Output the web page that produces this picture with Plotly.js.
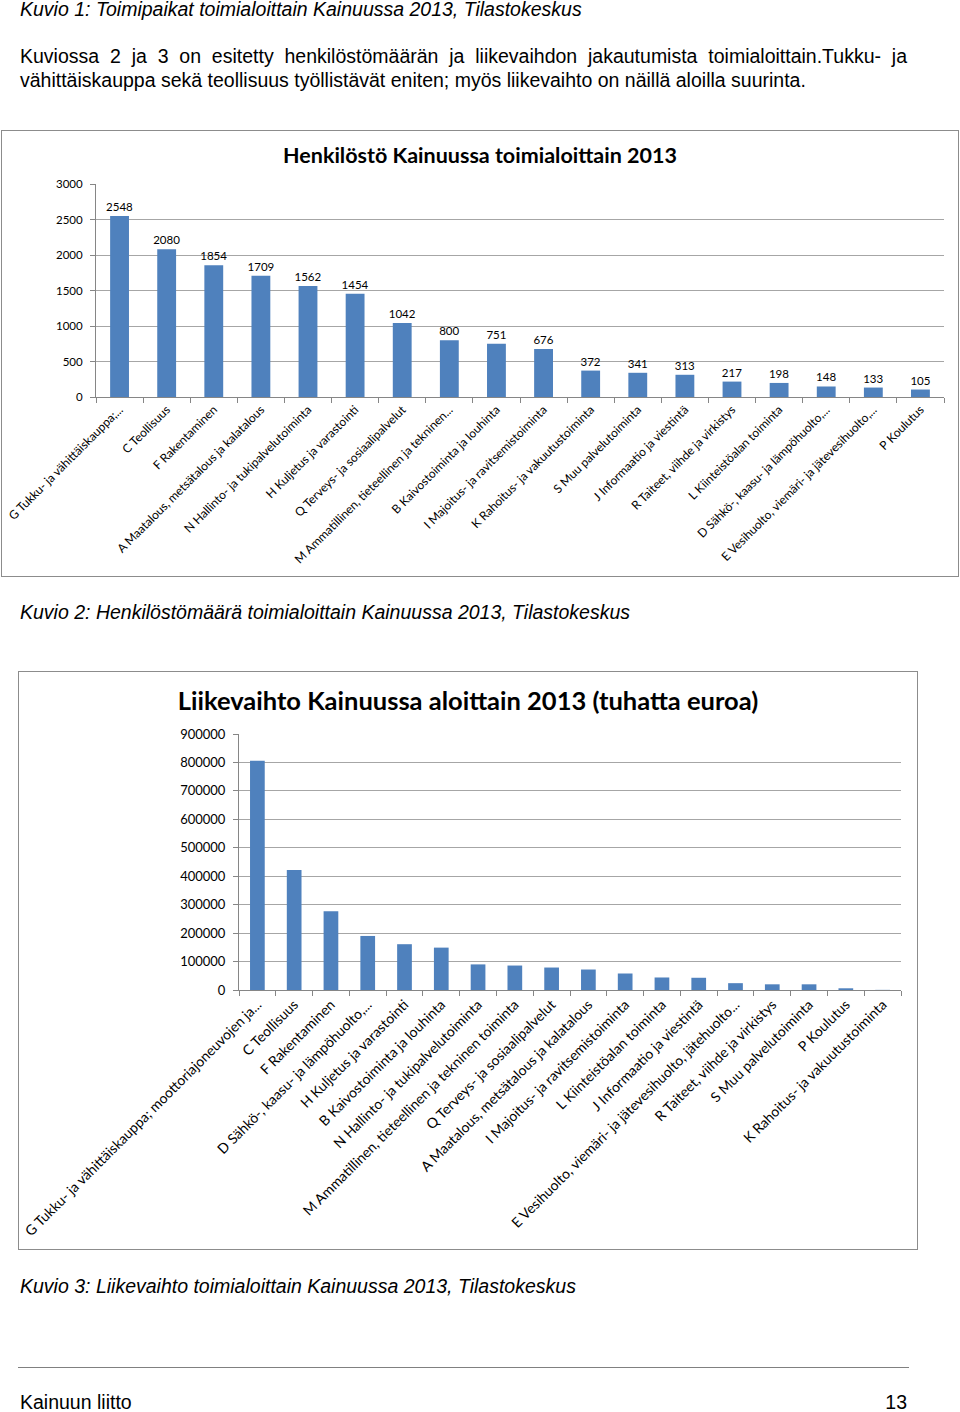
<!DOCTYPE html>
<html><head><meta charset="utf-8">
<script src="https://cdn.plot.ly/plotly-3.0.1.min.js"></script>
<style>
body{margin:0;width:960px;height:1412px;position:relative;background:#fff;font-family:"Liberation Sans",Arial,sans-serif;color:#000;overflow:hidden}
.t{position:absolute;white-space:nowrap;font-size:19.5px;line-height:22px}
.i{font-style:italic}
.box{position:absolute;border:1px solid #8c8c8c;box-sizing:border-box;background:#fff}
.f{line-height:16px}
</style></head><body>

<div class="t i" style="left:20px;top:-2px">Kuvio 1: Toimipaikat toimialoittain Kainuussa 2013, Tilastokeskus</div>
<div class="t" style="left:20px;top:45px;width:887px;text-align:justify;text-align-last:justify">Kuviossa 2 ja 3 on esitetty henkilöstömäärän ja liikevaihdon jakautumista toimialoittain.Tukku- ja</div>
<div class="t" style="left:20px;top:69px">vähittäiskauppa sekä teollisuus työllistävät eniten; myös liikevaihto on näillä aloilla suurinta.</div>

<div id="c1" class="box" style="left:1px;top:130px;width:958px;height:447px"></div>

<div class="t i" style="left:20px;top:601px">Kuvio 2: Henkilöstömäärä toimialoittain Kainuussa 2013, Tilastokeskus</div>

<div id="c2" class="box" style="left:18px;top:671px;width:900px;height:579px"></div>

<div class="t i" style="left:20px;top:1275px">Kuvio 3: Liikevaihto toimialoittain Kainuussa 2013, Tilastokeskus</div>
<div style="position:absolute;left:18px;top:1367px;width:891px;height:1px;background:#808080"></div>
<div class="t f" style="left:20px;top:1394px">Kainuun liitto</div>
<div class="t f" style="left:870px;top:1394px;width:37px;text-align:right">13</div>

<script>
// Chart 1: Henkilöstö
const staffCategories = [
  "G Tukku- ja vähittäiskauppa;...",
  "C Teollisuus",
  "F Rakentaminen",
  "A Maatalous, metsätalous ja kalatalous",
  "N Hallinto- ja tukipalvelutoiminta",
  "H Kuljetus ja varastointi",
  "Q Terveys- ja sosiaalipalvelut",
  "M Ammatillinen, tieteellinen ja tekninen...",
  "B Kaivostoiminta ja louhinta",
  "I Majoitus- ja ravitsemistoiminta",
  "K Rahoitus- ja vakuutustoiminta",
  "S Muu palvelutoiminta",
  "J Informaatio ja viestintä",
  "R Taiteet, viihde ja virkistys",
  "L Kiinteistöalan toiminta",
  "D Sähkö-, kaasu- ja lämpöhuolto,...",
  "E Vesihuolto, viemäri- ja jätevesihuolto,...",
  "P Koulutus"
];
const staffValues = [2548, 2080, 1854, 1709, 1562, 1454, 1042, 800, 751, 676, 372, 341, 313, 217, 198, 148, 133, 105];
const staffTicks = [0, 500, 1000, 1500, 2000, 2500, 3000];

// Chart 2: Liikevaihto (tuhatta euroa)
const turnoverCategories = [
  "G Tukku- ja vähittäiskauppa; moottoriajoneuvojen ja...",
  "C Teollisuus",
  "F Rakentaminen",
  "D Sähkö-, kaasu- ja lämpöhuolto,...",
  "H Kuljetus ja varastointi",
  "B Kaivostoiminta ja louhinta",
  "N Hallinto- ja tukipalvelutoiminta",
  "M Ammatillinen, tieteellinen ja tekninen toiminta",
  "Q Terveys- ja sosiaalipalvelut",
  "A Maatalous, metsätalous ja kalatalous",
  "I Majoitus- ja ravitsemistoiminta",
  "L Kiinteistöalan toiminta",
  "J Informaatio ja viestintä",
  "E Vesihuolto, viemäri- ja jätevesihuolto, jätehuolto...",
  "R Taiteet, viihde ja virkistys",
  "S Muu palvelutoiminta",
  "P Koulutus",
  "K Rahoitus- ja vakuutustoiminta"
];
const turnoverValues = [806000, 422000, 277000, 190000, 161000, 149000, 90000, 86000, 79000, 72000, 58000, 44000, 43000, 24000, 20000, 20000, 6000, 500];
const turnoverTicks = [0, 100000, 200000, 300000, 400000, 500000, 600000, 700000, 800000, 900000];

const chartFont = "Lato, 'Open Sans', sans-serif";
const barColor = "#4F81BD";
const cfg = {displayModeBar:false, staticPlot:true};

Plotly.newPlot("c1", [{
  type:"bar", x:staffCategories, y:staffValues,
  marker:{color:barColor},
  text:staffValues.map(String), textposition:"outside", cliponaxis:false, constraintext:"none",
  textfont:{family:chartFont, size:11.5, color:"#000"}
}], {
  width:956, height:445,
  margin:{l:94, r:14, t:53, b:179, pad:0},
  paper_bgcolor:"#fff", plot_bgcolor:"#fff",
  font:{family:chartFont, size:11.5, color:"#000"},
  title:{text:"<b>Henkilöstö Kainuussa toimialoittain 2013</b>", font:{family:chartFont, size:21.5, color:"#000"}, x:0.5, xanchor:"center", y:0.944, yanchor:"middle"},
  bargap:0.6,
  showlegend:false,
  xaxis:{type:"category", tickangle:-45, automargin:false, showline:true, linecolor:"#868686", linewidth:1,
         ticks:"outside", tickson:"boundaries", ticklen:5, tickcolor:"#868686", showgrid:false,
         tickfont:{family:chartFont, size:12, color:"#000"}},
  yaxis:{range:[0,3000], tickvals:staffTicks, ticktext:staffTicks.map(String), automargin:false,
         showline:true, linecolor:"#868686", ticks:"outside", ticklen:5, tickcolor:"#868686",
         ticklabelstandoff:5,
         gridcolor:"#a6a6a6", gridwidth:1, zeroline:false,
         tickfont:{family:chartFont, size:11.5, color:"#000"}}
}, cfg);

Plotly.newPlot("c2", [{
  type:"bar", x:turnoverCategories, y:turnoverValues,
  marker:{color:barColor}
}], {
  width:898, height:577,
  margin:{l:220, r:16, t:62, b:259, pad:0},
  paper_bgcolor:"#fff", plot_bgcolor:"#fff",
  font:{family:chartFont, size:13, color:"#000"},
  title:{text:"<b>Liikevaihto Kainuussa aloittain 2013 (tuhatta euroa)</b>", font:{family:chartFont, size:25.5, color:"#000"}, x:0.5, xanchor:"center", y:0.95, yanchor:"middle"},
  bargap:0.6,
  showlegend:false,
  xaxis:{type:"category", tickangle:-45, automargin:false, showline:true, linecolor:"#868686", linewidth:1,
         ticks:"outside", tickson:"boundaries", ticklen:5, tickcolor:"#868686", showgrid:false,
         tickfont:{family:chartFont, size:14, color:"#000"}},
  yaxis:{range:[0,900000], tickvals:turnoverTicks, ticktext:turnoverTicks.map(String), automargin:false,
         showline:true, linecolor:"#868686", ticks:"outside", ticklen:5, tickcolor:"#868686",
         ticklabelstandoff:5,
         gridcolor:"#a6a6a6", gridwidth:1, zeroline:false,
         tickfont:{family:chartFont, size:13, color:"#000"}}
}, cfg);
</script>
</body></html>
